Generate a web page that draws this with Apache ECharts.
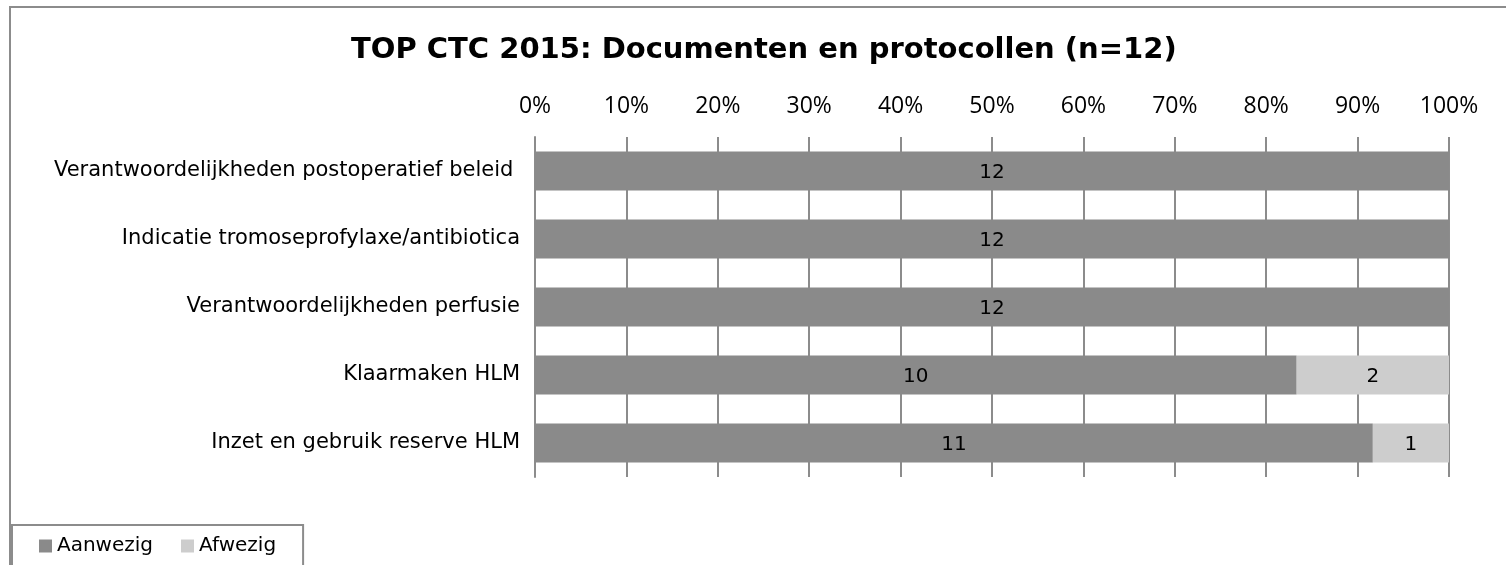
<!DOCTYPE html>
<html>
<head>
<meta charset="utf-8">
<script src="https://cdn.jsdelivr.net/npm/echarts@6/dist/echarts.min.js"></script>
<style>
  html, body { margin: 0; padding: 0; background: #fff; }
  #chart { width: 1506px; height: 565px; }
</style>
</head>
<body>
<div id="chart"></div>
<script>
    // categorieen (van boven naar beneden)
    var categories = [
        'Verantwoordelijkheden postoperatief beleid ',
        'Indicatie tromoseprofylaxe/antibiotica',
        'Verantwoordelijkheden perfusie',
        'Klaarmaken HLM',
        'Inzet en gebruik reserve HLM'
    ];
    var aanwezig = [12, 12, 12, 10, 11];
    var afwezig = [0, 0, 0, 2, 1];
    var n = 12;
    var tickLabels = ['0%', '10%', '20%', '30%', '40%', '50%', '60%', '70%', '80%', '90%', '100%'];

    function toPct(list) {
        return list.map(function (v) { return v / n * 100; });
    }

    var labelFont = 'DejaVu Sans';
    var gridColor = '#8c8c8c';

    function barLabel(counts) {
        return {
            show: true,
            position: 'inside',
            offset: [0, 2],
            fontFamily: labelFont,
            fontSize: 20,
            color: '#000',
            formatter: function (p) {
                var c = counts[p.dataIndex];
                return c ? String(c) : '';
            }
        };
    }

    var myChart = echarts.init(document.getElementById('chart'));
    var option = {
        animation: false,
        title: {
            text: 'TOP CTC 2015: Documenten en protocollen (n=12)',
            left: 346,
            top: 31,
            textStyle: {
                fontFamily: labelFont,
                fontWeight: 'bold',
                fontSize: 29,
                color: '#000'
            }
        },
        legend: {
            left: 12,
            top: 525,
            icon: 'rect',
            itemWidth: 13,
            itemHeight: 13,
            itemGap: 28,
            itemTextGap: 5,
            borderColor: gridColor,
            borderWidth: 2,
            padding: [11, 27, 30, 27],
            textStyle: { fontFamily: labelFont, fontSize: 20, color: '#000' },
            data: ['Aanwezig', 'Afwezig']
        },
        graphic: [{
            type: 'rect',
            shape: { x: 10, y: 7, width: 1600, height: 700 },
            style: { fill: 'none', stroke: gridColor, lineWidth: 2 },
            silent: true
        }],
        grid: {
            left: 535,
            right: 57,
            top: 137,
            height: 340,
            containLabel: false
        },
        xAxis: {
            type: 'value',
            position: 'top',
            min: 0,
            max: 100,
            interval: 10,
            axisLine: { show: false },
            axisTick: { show: false },
            axisLabel: {
                margin: 19,
                fontFamily: 'Open Sans',
                fontSize: 23,
                color: '#000',
                formatter: function (v) { return tickLabels[Math.round(v / 10)]; }
            },
            splitLine: { lineStyle: { color: gridColor, width: 2 } }
        },
        yAxis: {
            type: 'category',
            inverse: true,
            data: categories,
            axisLine: { show: true, lineStyle: { color: gridColor, width: 2 } },
            axisTick: { show: false },
            axisLabel: {
                margin: 15,
                fontFamily: labelFont,
                fontSize: 21,
                color: '#000'
            }
        },
        series: [
            {
                name: 'Aanwezig',
                type: 'bar',
                stack: 'totaal',
                barCategoryGap: '43%',
                itemStyle: { color: '#8a8a8a' },
                label: barLabel(aanwezig),
                data: toPct(aanwezig)
            },
            {
                name: 'Afwezig',
                type: 'bar',
                stack: 'totaal',
                itemStyle: { color: '#cdcdcd' },
                label: barLabel(afwezig),
                data: toPct(afwezig)
            }
        ]
    };
    myChart.setOption(option, true);
</script>
</body>
</html>
